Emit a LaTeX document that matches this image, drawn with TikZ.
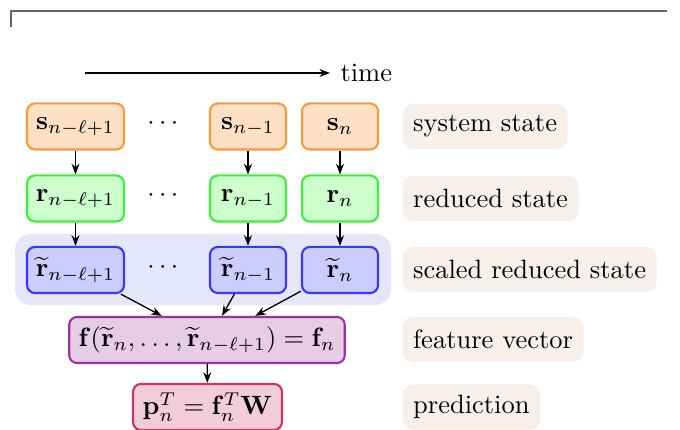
\documentclass[tikz,border=0pt]{standalone}
\usepackage{amsmath}
\usetikzlibrary{arrows.meta,calc}
\definecolor{sbord}{HTML}{F79A3A}
\definecolor{sfill}{HTML}{FFE0C4}
\definecolor{rbord}{HTML}{3CF03C}
\definecolor{rfill}{HTML}{CCFFCC}
\definecolor{tbord}{HTML}{3838F8}
\definecolor{tfill}{HTML}{CCCCFF}
\definecolor{bgfill}{HTML}{E6E6FA}
\definecolor{fbord}{HTML}{9A349A}
\definecolor{ffill}{HTML}{E6CCE6}
\definecolor{pbord}{HTML}{CC3366}
\definecolor{pfill}{HTML}{F2CCD9}
\definecolor{lfill}{HTML}{F6EFEA}
\tikzset{
  box/.style={draw, rounded corners=3pt, line width=0.8pt, minimum height=17.4pt, inner sep=0pt, align=center},
  sbox/.style={box, draw=sbord, fill=sfill},
  rbox/.style={box, draw=rbord, fill=rfill},
  tbox/.style={box, draw=tbord, fill=tfill},
  fbox/.style={box, draw=fbord, fill=ffill},
  pbox/.style={box, draw=pbord, fill=pfill},
  lab/.style={fill=lfill, rounded corners=4pt, minimum height=17pt, inner xsep=4pt, inner ysep=0pt, anchor=west},
  arr/.style={-{Stealth[length=4pt,width=3pt]}, line width=0.5pt},
}
\begin{document}
\begin{tikzpicture}[x=0.3774pt, y=-0.3774pt]
\useasboundingbox (0,0) rectangle (680,430);
% frame
\draw[gray!80!black, line width=0.5pt] (11,27) -- (11,11) -- (667,11);
% time
\coordinate (t0) at (85,73);
\node[anchor=west, inner sep=0pt] (time) at (340,73) {time};
\draw[arr] (t0) -- ($(time.west)+(-10,0)$);
% background of scaled row
\node[fill=bgfill, rounded corners=6pt, minimum width=141.9pt, minimum height=26.8pt, inner sep=0pt] (bg) at (203,269.5) {};
% row 1
\node[sbox, minimum width=36.6pt] (s1) at (75.5,126.5) {$\mathbf{s}_{n-\ell+1}$};
\node[sbox, minimum width=28.7pt] (s2) at (248,126.5) {$\mathbf{s}_{n-1}$};
\node[sbox, minimum width=28.7pt] (s3) at (340,126.5) {$\mathbf{s}_{n}$};
\node (d1) at (165,124) {$\cdots$};
% row 2
\node[rbox, minimum width=36.6pt] (r1) at (75.5,198.5) {$\mathbf{r}_{n-\ell+1}$};
\node[rbox, minimum width=28.7pt] (r2) at (248,198.5) {$\mathbf{r}_{n-1}$};
\node[rbox, minimum width=28.7pt] (r3) at (340,198.5) {$\mathbf{r}_{n}$};
\node (d2) at (165,196) {$\cdots$};
% row 3
\node[tbox, minimum width=36.6pt] (t1) at (75.5,270) {$\widetilde{\mathbf{r}}_{n-\ell+1}$};
\node[tbox, minimum width=28.7pt] (t2) at (248,270) {$\widetilde{\mathbf{r}}_{n-1}$};
\node[tbox, minimum width=28.7pt] (t3) at (340,270) {$\widetilde{\mathbf{r}}_{n}$};
\node (d3) at (165,268) {$\cdots$};
% feature & prediction
\node[fbox, minimum width=104pt] (f) at (207,340) {$\mathbf{f}(\widetilde{\mathbf{r}}_n,\ldots,\widetilde{\mathbf{r}}_{n-\ell+1}) = \mathbf{f}_n$};
\node[pbox, minimum width=56.2pt] (p) at (207.5,407) {$\mathbf{p}_n^T = \mathbf{f}_n^T\mathbf{W}$};
% arrows
\draw[arr] (s1) -- (r1);
\draw[arr] (s2) -- (r2);
\draw[arr] (s3) -- (r3);
\draw[arr] (r1) -- (t1);
\draw[arr] (r2) -- (t2);
\draw[arr] (r3) -- (t3);
\coordinate (fa) at ($(f.north west)!0.337!(f.north east)$);
\coordinate (fb) at ($(f.north west)!0.554!(f.north east)$);
\coordinate (fc) at ($(f.north west)!0.674!(f.north east)$);
\draw[arr] (t1) -- (fa);
\draw[arr] (t2) -- (fb);
\draw[arr] (t3) -- (fc);
\draw[arr] (f) -- (p);
% labels
\node[lab] (l1) at (402,126.5) {system state};
\node[lab] (l2) at (402,198.5) {reduced state};
\node[lab] (l3) at (402,269.5) {scaled reduced state};
\node[lab] (l4) at (402,339.5) {feature vector};
\node[lab] (l5) at (402,407) {prediction};
\end{tikzpicture}
\end{document}
